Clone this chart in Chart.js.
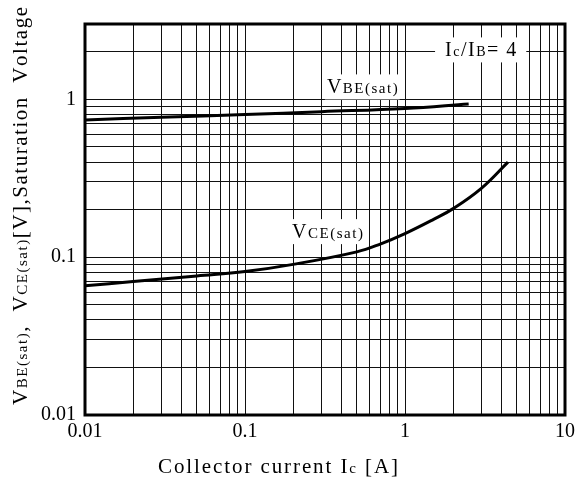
<!DOCTYPE html>
<html>
<head>
<meta charset="utf-8">
<script src="https://cdn.jsdelivr.net/npm/chart.js@4.4.0/dist/chart.umd.min.js"></script>
<style>
  html, body { margin: 0; padding: 0; background: #fff; }
  canvas { display: block; }
</style>
</head>
<body>
<canvas id="chart" width="585" height="483"></canvas>
<script>
// values (log-log)
const currentVBE = [0.01, 0.03, 0.1, 0.3, 1, 2.5];
const voltVBE = [0.74, 0.77, 0.80, 0.835, 0.875, 0.935];
const currentVCE = [0.01, 0.02, 0.05, 0.1, 0.2, 0.5, 0.7, 1, 1.5, 2, 3, 4.4];
const voltVCE = [0.066, 0.070, 0.076, 0.081, 0.090, 0.108, 0.121, 0.141, 0.173, 0.203, 0.273, 0.40];
const xTickLabels = [0.01, 0.1, 1, 10];
const yTickLabels = [0.01, 0.1, 1];
const xRange = [0.01, 10];
const yRange = [0.01, 3];

const SERIF = "'Liberation Serif', 'Times New Roman', serif";
const BIG = 20, SMALL = 14;

// log grid lines: 1..9 in every decade inside the range
function gridValues(min, max) {
  const out = [];
  for (let d = min; d < max * 1.0001; d *= 10) {
    for (let m = 1; m <= 9; m++) {
      const v = +(d * m).toPrecision(6);
      if (v <= max * 1.0001) out.push(v);
    }
  }
  return out;
}

function isLabel(list, v) {
  return list.some(t => Math.abs(t - v) / t < 1e-6);
}

// text built from pieces: [text, size]
function measureSegs(ctx, segs) {
  let w = 0, n = 0;
  segs.forEach(([t, s]) => {
    ctx.font = s + 'px ' + SERIF;
    for (const ch of t) { w += ctx.measureText(ch).width; n++; }
  });
  return { w, n };
}

function drawSegs(ctx, segs, x, y, spacing) {
  segs.forEach(([t, s]) => {
    ctx.font = s + 'px ' + SERIF;
    for (const ch of t) {
      ctx.fillText(ch, x, y);
      x += ctx.measureText(ch).width + spacing;
    }
  });
  return x;
}

// labels placed in data units (left edge, baseline)
const notes = [
  { segs: [['V', BIG], ['BE(sat)', SMALL + 1]], at: [0.325, 1.09], pad: 2 },
  { segs: [['V', BIG], ['CE(sat)', SMALL + 1]], at: [0.197, 0.132], pad: 2 },
  { segs: [['I', BIG], ['c', SMALL], ['/I', BIG], ['B', SMALL], ['= 4', BIG]], at: [1.78, 1.87], pad: 10 }
];

const annotate = {
  id: 'annotate',
  beforeDatasetsDraw(chart) {
    const ctx = chart.ctx;
    const xs = chart.scales.x, ys = chart.scales.y;
    ctx.save();
    ctx.textBaseline = 'alphabetic';
    ctx.textAlign = 'left';
    notes.forEach(n => {
      const px = xs.getPixelForValue(n.at[0]);
      const py = ys.getPixelForValue(n.at[1]);
      const m = measureSegs(chart.ctx, n.segs);
      const sp = 1.5;
      const w = m.w + sp * (m.n - 1);
      ctx.fillStyle = '#fff';
      ctx.fillRect(px - n.pad, py - 19, w + 2 * n.pad, 25);
      ctx.fillStyle = '#000';
      drawSegs(ctx, n.segs, px, py, sp);
    });
    ctx.restore();
  },
  afterDraw(chart) {
    const ctx = chart.ctx;
    const a = chart.chartArea;
    ctx.save();
    ctx.strokeStyle = '#000';
    ctx.lineWidth = 3;
    ctx.strokeRect(a.left, a.top, a.right - a.left, a.bottom - a.top);

    ctx.fillStyle = '#000';
    ctx.textBaseline = 'alphabetic';
    ctx.textAlign = 'left';

    // x axis title
    const xt = [['Collector current I', 21], ['c', 15], [' [A]', 21]];
    let m = measureSegs(ctx, xt);
    let sp = (240 - m.w) / (m.n - 1);
    drawSegs(ctx, xt, 158, 473, sp);

    // y axis title (rotated), runs from y=405 up to the top edge
    const yt = [['V', 21], ['BE(sat)', 15], [',  V', 21], ['CE(sat)', 15],
                ['[V],Saturation  Voltage', 21]];
    m = measureSegs(ctx, yt);
    sp = (398 - m.w) / (m.n - 1);
    ctx.translate(27, 405);
    ctx.rotate(-Math.PI / 2);
    drawSegs(ctx, yt, 0, 0, sp);
    ctx.restore();
  }
};

const gridStyle = { color: '#111', lineWidth: 1, drawTicks: false };
const tickFont = { family: SERIF, size: 20 };

const lineStyle = {
  borderColor: '#000',
  borderWidth: 3,
  pointRadius: 0,
  tension: 0.4,
  fill: false
};

new Chart(document.getElementById('chart'), {
  type: 'line',
  data: {
    datasets: [
      Object.assign({ label: 'VBE(sat)', data: currentVBE.map((c, i) => ({ x: c, y: voltVBE[i] })) }, lineStyle),
      Object.assign({ label: 'VCE(sat)', data: currentVCE.map((c, i) => ({ x: c, y: voltVCE[i] })) }, lineStyle)
    ]
  },
  options: {
    responsive: false,
    animation: false,
    devicePixelRatio: 1,
    layout: { padding: { top: 24, right: 20, left: 0, bottom: 0 } },
    plugins: { legend: { display: false }, tooltip: { enabled: false } },
    scales: {
      x: {
        type: 'logarithmic',
        min: xRange[0],
        max: xRange[1],
        grid: gridStyle,
        border: { display: false },
        afterBuildTicks: s => { s.ticks = gridValues(xRange[0], xRange[1]).map(v => ({ value: v })); },
        afterFit: s => { s.height = 68; },
        ticks: {
          autoSkip: false,
          maxRotation: 0,
          padding: 5,
          color: '#000',
          font: tickFont,
          callback: v => isLabel(xTickLabels, v) ? String(v) : ''
        }
      },
      y: {
        type: 'logarithmic',
        min: yRange[0],
        max: yRange[1],
        grid: gridStyle,
        border: { display: false },
        afterBuildTicks: s => { s.ticks = gridValues(yRange[0], yRange[1]).map(v => ({ value: v })); },
        afterFit: s => { s.width = 85; },
        ticks: {
          autoSkip: false,
          padding: 9,
          color: '#000',
          font: tickFont,
          callback: v => isLabel(yTickLabels, v) ? String(v) : ''
        }
      }
    }
  },
  plugins: [annotate]
});
</script>
</body>
</html>
